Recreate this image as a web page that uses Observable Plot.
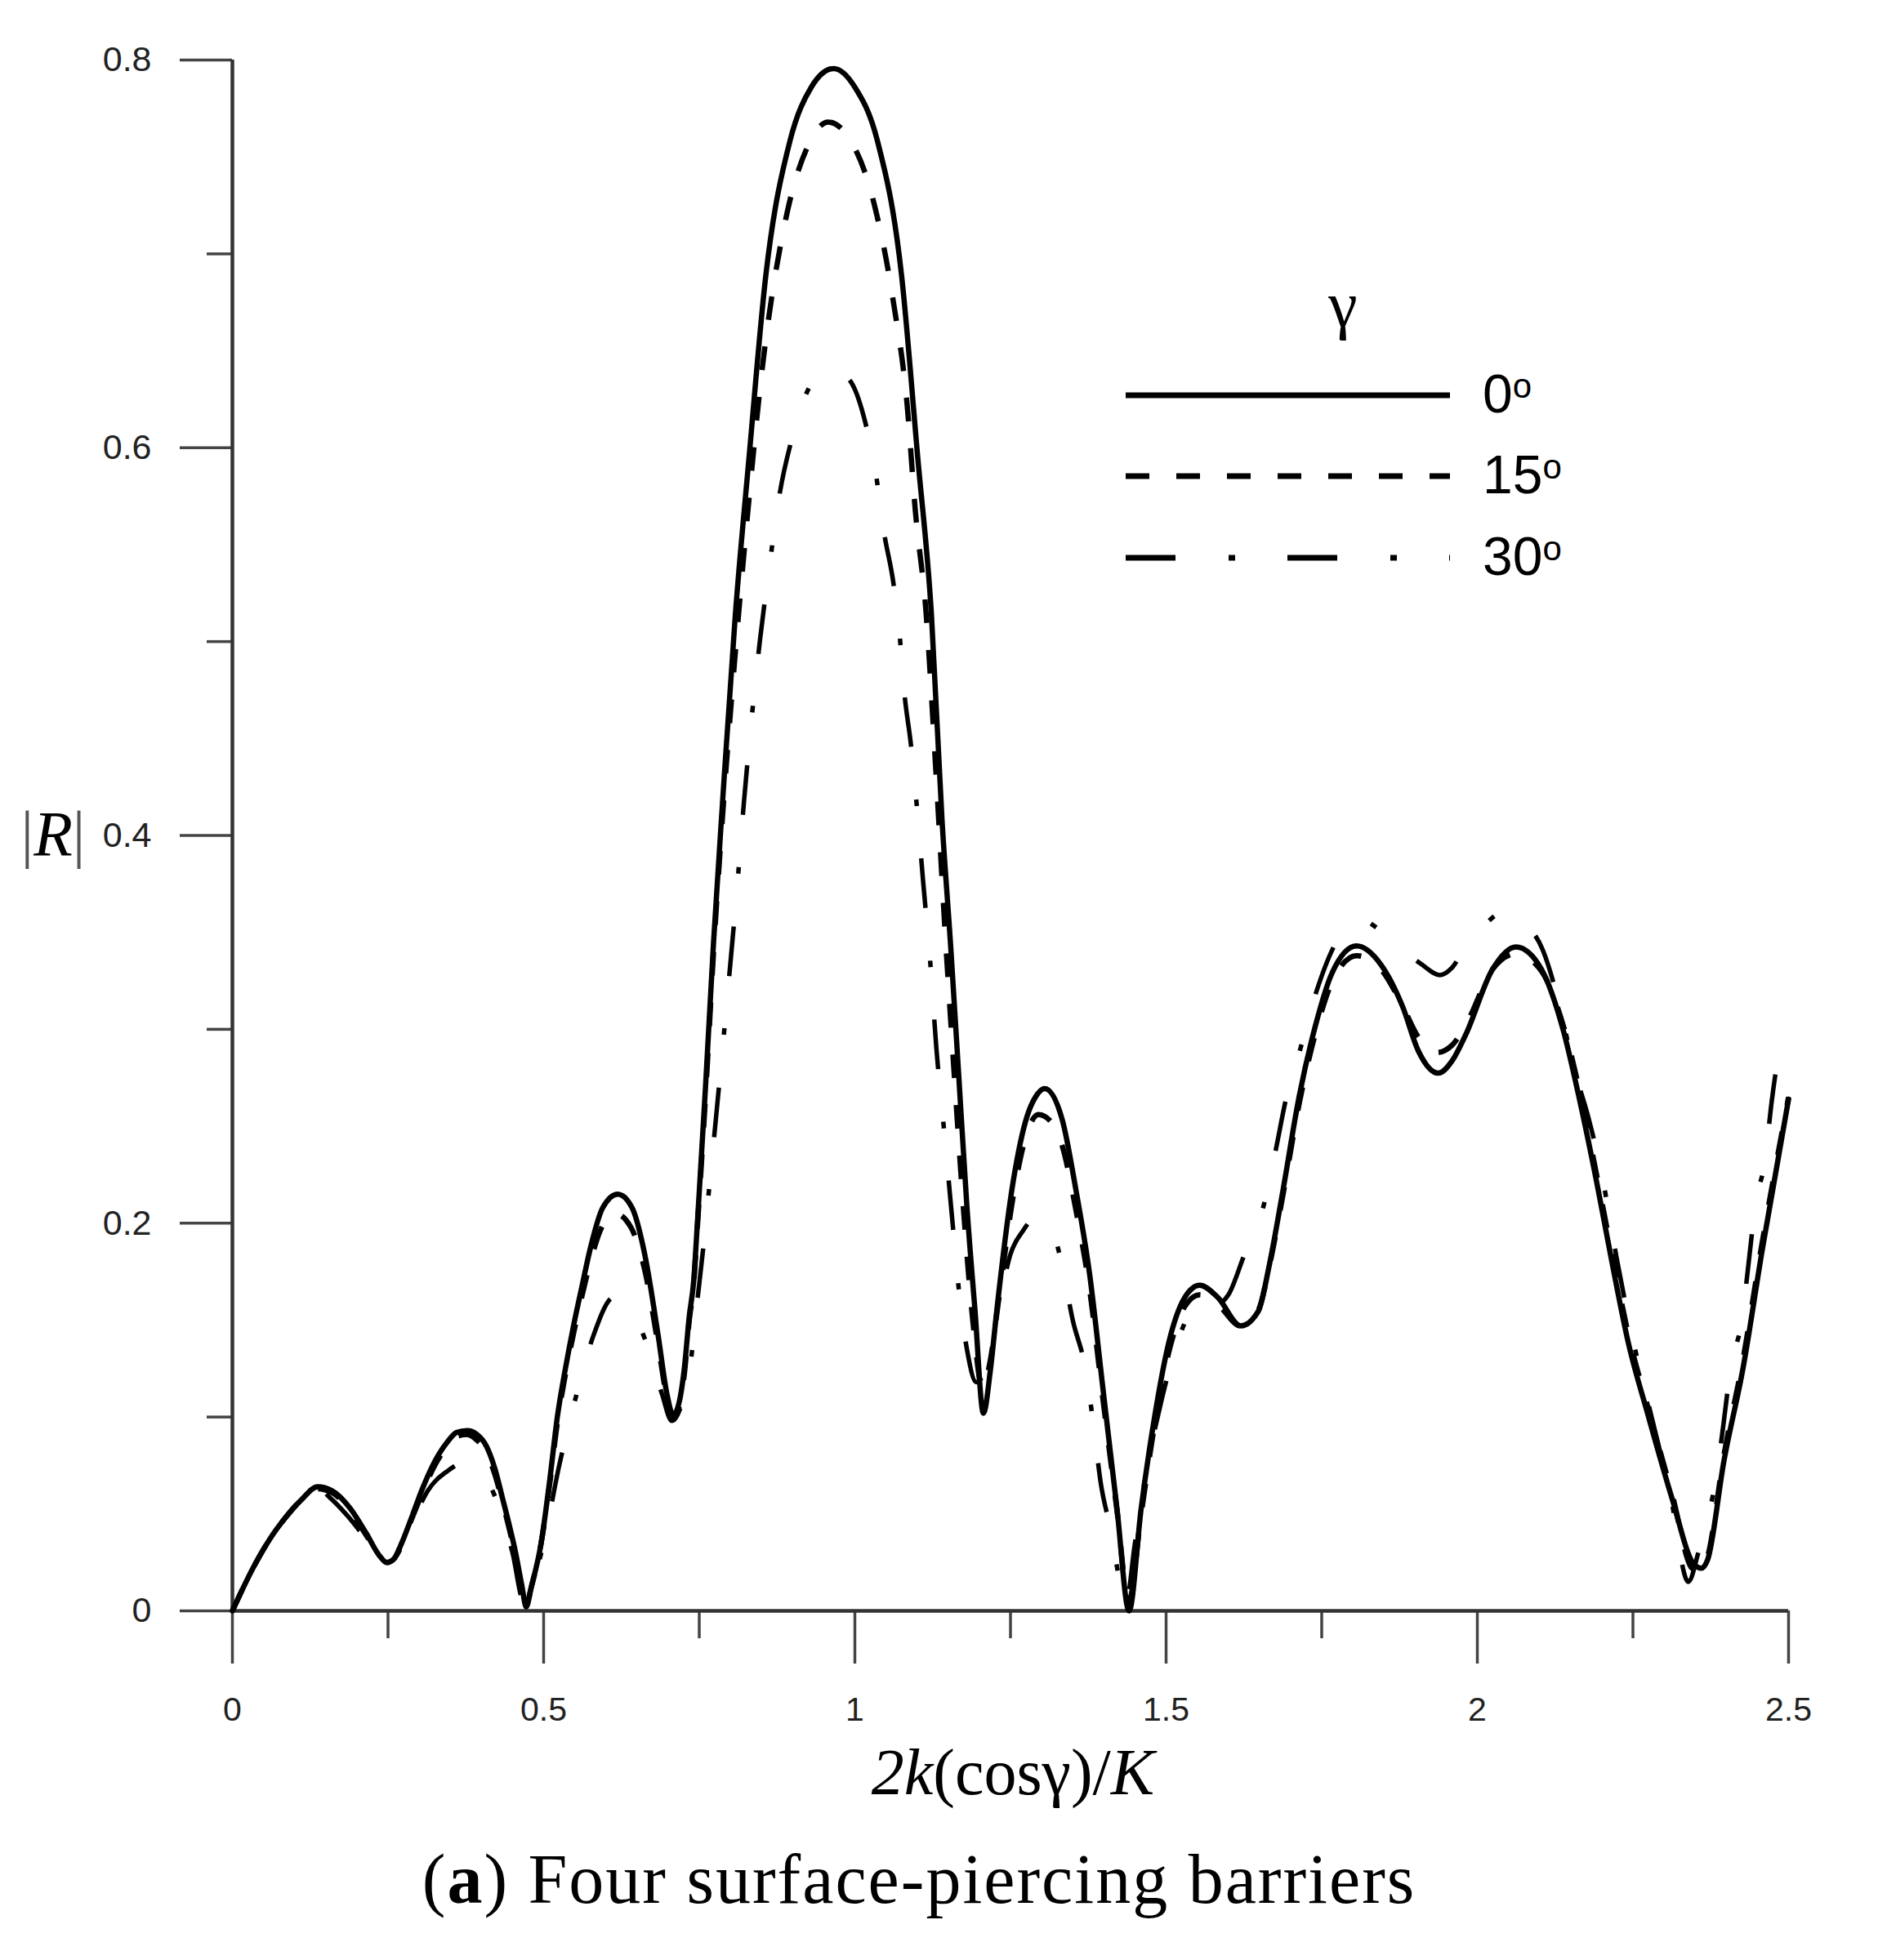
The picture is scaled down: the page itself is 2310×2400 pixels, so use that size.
<!DOCTYPE html>
<html>
<head>
<meta charset="utf-8">
<script src="https://cdn.jsdelivr.net/npm/d3@7"></script>
<script src="https://cdn.jsdelivr.net/npm/@observablehq/plot@0.6"></script>
<style>
  html, body { margin: 0; padding: 0; background: #fff; }
  #wrap { position: relative; width: 2310px; height: 2400px; background: #fff; }
  #overlay { position: absolute; left: 0; top: 0; pointer-events: none; }
</style>
</head>
<body>
<div id="wrap">
  <div id="chart"></div>
  <svg id="caption" width="2310" height="160" style="display:block">
    <text x="1125" y="90" text-anchor="middle" font-family="Liberation Serif, Times New Roman, serif" font-size="86" letter-spacing="2" fill="#000">(<tspan font-weight="bold">a</tspan>) Four surface-piercing barriers</text>
  </svg>
  <svg id="overlay" width="2310" height="2240"></svg>
</div>
<script>
// ---------- data ----------
const seriesNames = ["0°", "15°", "30°"];

const gamma0X = [0, 0.033, 0.06, 0.085, 0.11, 0.137, 0.16, 0.189, 0.215, 0.235, 0.248, 0.26, 0.272, 0.29, 0.304, 0.325, 0.345, 0.36, 0.377, 0.393, 0.408, 0.422, 0.434, 0.445, 0.455, 0.465, 0.472, 0.48, 0.496, 0.51, 0.522, 0.535, 0.548, 0.562, 0.575, 0.595, 0.619, 0.642, 0.663, 0.684, 0.698, 0.708, 0.718, 0.726, 0.734, 0.741, 0.747, 0.76, 0.773, 0.787, 0.808, 0.83, 0.857, 0.896, 0.93, 0.966, 1.0, 1.036, 1.075, 1.101, 1.123, 1.14, 1.154, 1.167, 1.18, 1.193, 1.2065, 1.218, 1.228, 1.2546, 1.2765, 1.29, 1.305, 1.333, 1.355, 1.377, 1.399, 1.421, 1.4405, 1.46, 1.482, 1.504, 1.53, 1.554, 1.583, 1.62, 1.648, 1.666, 1.688, 1.714, 1.74, 1.766, 1.806, 1.845, 1.88, 1.905, 1.937, 1.96, 1.981, 2.0245, 2.062, 2.103, 2.138, 2.1645, 2.191, 2.217, 2.243, 2.274, 2.313, 2.348, 2.36, 2.37, 2.396, 2.427, 2.4576, 2.5];
const gamma0Y = [0, 0.022, 0.037, 0.048, 0.057, 0.064, 0.062, 0.053, 0.04, 0.029, 0.025, 0.027, 0.035, 0.05, 0.062, 0.077, 0.087, 0.092, 0.093, 0.091, 0.085, 0.073, 0.058, 0.044, 0.03, 0.013, 0.002, 0.012, 0.035, 0.068, 0.1, 0.125, 0.147, 0.168, 0.187, 0.208, 0.215, 0.208, 0.183, 0.142, 0.112, 0.101, 0.108, 0.125, 0.152, 0.17, 0.2, 0.27, 0.345, 0.415, 0.514, 0.595, 0.689, 0.7586, 0.786, 0.7956, 0.786, 0.7586, 0.689, 0.595, 0.514, 0.408, 0.3425, 0.2755, 0.2085, 0.155, 0.102, 0.125, 0.155, 0.222, 0.255, 0.265, 0.2694, 0.2536, 0.2174, 0.174, 0.1134, 0.053, 0.0, 0.053, 0.101, 0.138, 0.1617, 0.168, 0.1617, 0.147, 0.1545, 0.1787, 0.2174, 0.2658, 0.302, 0.3286, 0.343, 0.3334, 0.3117, 0.289, 0.2774, 0.284, 0.297, 0.331, 0.3425, 0.331, 0.2996, 0.2633, 0.2224, 0.1787, 0.1377, 0.1013, 0.0578, 0.024, 0.022, 0.0264, 0.077, 0.1255, 0.186, 0.264];

const gamma15X = [0, 0.033, 0.06, 0.085, 0.11, 0.137, 0.16, 0.189, 0.215, 0.235, 0.248, 0.26, 0.272, 0.29, 0.304, 0.325, 0.345, 0.36, 0.377, 0.393, 0.408, 0.422, 0.434, 0.445, 0.455, 0.465, 0.472, 0.48, 0.496, 0.51, 0.522, 0.535, 0.548, 0.562, 0.575, 0.595, 0.615, 0.64, 0.663, 0.684, 0.698, 0.708, 0.718, 0.726, 0.734, 0.741, 0.747, 0.76, 0.773, 0.787, 0.802, 0.826, 0.852, 0.891, 0.925, 0.957, 0.99, 1.03, 1.062, 1.084, 1.097, 1.1146, 1.13, 1.145, 1.16, 1.175, 1.19, 1.205, 1.218, 1.23, 1.255, 1.275, 1.295, 1.316, 1.333, 1.355, 1.377, 1.399, 1.421, 1.44, 1.46, 1.482, 1.504, 1.53, 1.554, 1.583, 1.62, 1.648, 1.666, 1.688, 1.714, 1.74, 1.766, 1.806, 1.845, 1.88, 1.905, 1.935, 1.96, 1.981, 2.0245, 2.062, 2.103, 2.138, 2.1645, 2.191, 2.217, 2.243, 2.274, 2.313, 2.345, 2.36, 2.37, 2.396, 2.427, 2.4576, 2.5];
const gamma15Y = [0, 0.022, 0.037, 0.048, 0.057, 0.063, 0.061, 0.052, 0.039, 0.029, 0.025, 0.027, 0.035, 0.049, 0.06, 0.075, 0.085, 0.09, 0.091, 0.088, 0.082, 0.07, 0.056, 0.042, 0.028, 0.012, 0.003, 0.012, 0.035, 0.066, 0.097, 0.122, 0.143, 0.163, 0.18, 0.199, 0.205, 0.198, 0.175, 0.137, 0.11, 0.099, 0.106, 0.122, 0.15, 0.168, 0.198, 0.265, 0.34, 0.408, 0.471, 0.56, 0.643, 0.721, 0.756, 0.768, 0.76, 0.727, 0.675, 0.622, 0.568, 0.514, 0.434, 0.35, 0.275, 0.205, 0.148, 0.115, 0.13, 0.158, 0.215, 0.245, 0.256, 0.252, 0.24, 0.207, 0.166, 0.108, 0.052, 0.005, 0.05, 0.097, 0.133, 0.157, 0.163, 0.158, 0.147, 0.155, 0.178, 0.215, 0.262, 0.298, 0.324, 0.338, 0.331, 0.312, 0.296, 0.288, 0.292, 0.302, 0.331, 0.339, 0.33, 0.302, 0.268, 0.226, 0.183, 0.142, 0.105, 0.06, 0.022, 0.02, 0.028, 0.08, 0.13, 0.19, 0.265];

const gamma30X = [0, 0.033, 0.06, 0.085, 0.11, 0.137, 0.158, 0.185, 0.215, 0.24, 0.255, 0.275, 0.295, 0.314, 0.345, 0.377, 0.4, 0.429, 0.45, 0.468, 0.48, 0.5, 0.525, 0.554, 0.58, 0.6135, 0.635, 0.663, 0.69, 0.706, 0.72, 0.738, 0.748, 0.758, 0.768, 0.778, 0.788, 0.798, 0.81, 0.822, 0.835, 0.848, 0.862, 0.878, 0.9, 0.925, 0.955, 0.988, 1.016, 1.034, 1.047, 1.062, 1.072, 1.08, 1.09, 1.099, 1.11, 1.121, 1.131, 1.143, 1.155, 1.167, 1.18, 1.195, 1.21, 1.23, 1.25, 1.27, 1.29, 1.305, 1.3325, 1.35, 1.37, 1.383, 1.395, 1.41, 1.427, 1.435, 1.45, 1.47, 1.49, 1.51, 1.535, 1.555, 1.58, 1.6, 1.626, 1.655, 1.675, 1.694, 1.714, 1.739, 1.775, 1.81, 1.84, 1.875, 1.9085, 1.94, 1.96, 1.985, 2.015, 2.044, 2.07, 2.105, 2.13, 2.155, 2.178, 2.2, 2.225, 2.25, 2.28, 2.31, 2.339, 2.355, 2.366, 2.383, 2.3955, 2.407, 2.425, 2.436, 2.447, 2.462, 2.473, 2.485];
const gamma30Y = [0, 0.022, 0.037, 0.048, 0.057, 0.063, 0.058, 0.049, 0.037, 0.027, 0.026, 0.035, 0.05, 0.062, 0.072, 0.077, 0.072, 0.053, 0.03, 0.005, 0.012, 0.035, 0.075, 0.113, 0.142, 0.162, 0.158, 0.14, 0.112, 0.098, 0.105, 0.133, 0.163, 0.192, 0.225, 0.258, 0.292, 0.327, 0.37, 0.418, 0.463, 0.502, 0.537, 0.574, 0.606, 0.63, 0.64, 0.636, 0.614, 0.586, 0.556, 0.53, 0.503, 0.472, 0.447, 0.417, 0.375, 0.335, 0.29, 0.249, 0.207, 0.166, 0.135, 0.118, 0.125, 0.155, 0.184, 0.196, 0.203, 0.203, 0.179, 0.15, 0.1255, 0.097, 0.066, 0.043, 0.013, 0.003, 0.035, 0.075, 0.105, 0.13, 0.152, 0.16, 0.158, 0.163, 0.184, 0.207, 0.236, 0.266, 0.288, 0.317, 0.346, 0.357, 0.352, 0.342, 0.334, 0.328, 0.332, 0.3455, 0.355, 0.361, 0.356, 0.341, 0.315, 0.28, 0.255, 0.225, 0.18, 0.14, 0.1, 0.06, 0.015, 0.03, 0.043, 0.0675, 0.0965, 0.1255, 0.15, 0.18, 0.21, 0.232, 0.263, 0.29];

const yTicksMajor = [0, 0.2, 0.4, 0.6, 0.8];
const yTicksMinor = [0.1, 0.3, 0.5, 0.7];
const xTicksMajor = [0, 0.5, 1, 1.5, 2, 2.5];
const xTicksMinor = [0.25, 0.75, 1.25, 1.75, 2.25];

// ---------- styles ----------
const dashes = {"0°": null, "15°": "29,33", "30°": "61,65,8,64"};
const widths = {"0°": 6.5, "15°": 6.5, "30°": 5.5};

function rows(name, xs, ys) { return xs.map((x, i) => ({series: name, x, y: ys[i]})); }
const data0 = rows("0°", gamma0X, gamma0Y);
const data15 = rows("15°", gamma15X, gamma15Y);
const data30 = rows("30°", gamma30X, gamma30Y);

const W = 2310, H = 2240;
const mL = 284, mR = 121, mT = 73, mB = 268;

const chart = Plot.plot({
  width: W,
  height: H,
  marginLeft: mL,
  marginRight: mR,
  marginTop: mT,
  marginBottom: mB,
  style: {fontFamily: "'Liberation Sans', Arial, sans-serif", background: "white", color: "#222"},
  x: {domain: [0, 2.5]},
  y: {domain: [0, 0.8]},
  marks: [
    Plot.axisY({ticks: yTicksMajor, tickSize: 64, tickPadding: 35, fontSize: 43, tickFormat: d => String(d), label: null, stroke: "#444", strokeWidth: 3.5}),
    Plot.axisY({ticks: yTicksMinor, tickSize: 31, tickFormat: () => "", label: null, stroke: "#444", strokeWidth: 3.5}),
    Plot.axisX({ticks: xTicksMajor, tickSize: 65, tickPadding: 40, fontSize: 41, tickFormat: d => String(d), label: null, stroke: "#444", strokeWidth: 3.5}),
    Plot.axisX({ticks: xTicksMinor, tickSize: 34, tickFormat: () => "", label: null, stroke: "#444", strokeWidth: 3.5}),
    Plot.ruleY([0], {stroke: "#333", strokeWidth: 4.5}),
    Plot.ruleX([0], {stroke: "#333", strokeWidth: 4.5}),
    Plot.line(data30, {x: "x", y: "y", stroke: "#000", strokeWidth: widths["30°"], strokeDasharray: dashes["30°"], curve: "monotone-x", strokeLinecap: "butt"}),
    Plot.line(data15, {x: "x", y: "y", stroke: "#000", strokeWidth: widths["15°"], strokeDasharray: dashes["15°"], curve: "monotone-x", strokeLinecap: "butt"}),
    Plot.line(data0, {x: "x", y: "y", stroke: "#000", strokeWidth: widths["0°"], curve: "monotone-x"})
  ]
});
document.getElementById("chart").appendChild(chart);

// ---------- overlay: axis titles and legend ----------
const ov = d3.select("#overlay");
const serif = "'Liberation Serif', 'Times New Roman', serif";

// y title |R|
const yt = ov.append("text").attr("x", 65).attr("y", 1047).attr("text-anchor", "middle")
  .attr("font-family", serif).attr("font-size", 78).attr("fill", "#000");
yt.append("tspan").attr("fill", "#555").text("|");
yt.append("tspan").attr("font-style", "italic").text("R");
yt.append("tspan").attr("fill", "#555").text("|");

// x title 2k(cosγ)/K
const xt = ov.append("text").attr("x", 1240).attr("y", 2197).attr("text-anchor", "middle")
  .attr("font-family", serif).attr("font-size", 80).attr("fill", "#000");
xt.append("tspan").attr("font-style", "italic").text("2k");
xt.append("tspan").text("(cosγ)/");
xt.append("tspan").attr("font-style", "italic").text("K");

// legend
ov.append("text").attr("x", 1644).attr("y", 400).attr("text-anchor", "middle")
  .attr("font-family", serif).attr("font-size", 80).attr("fill", "#000").text("γ");
const legendY = [484, 583, 683];
seriesNames.forEach((name, i) => {
  const ly = legendY[i];
  ov.append("line").attr("x1", 1378).attr("x2", 1775).attr("y1", ly).attr("y2", ly)
    .attr("stroke", "#000").attr("stroke-width", 7)
    .attr("stroke-dasharray", dashes[name]);
  const t = ov.append("text").attr("x", 1815).attr("y", ly + 21)
    .attr("font-family", "'Liberation Sans', Arial, sans-serif").attr("font-size", 66).attr("fill", "#000");
  t.append("tspan").text(name.replace("°", ""));
  t.append("tspan").attr("font-size", 42).attr("dy", -18).text("o");
});
</script>
</body>
</html>
